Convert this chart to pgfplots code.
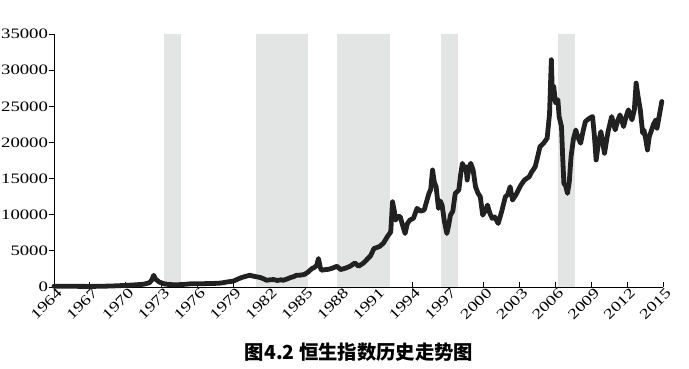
\documentclass[border=0pt]{standalone}
\usepackage{pgfplots}
\pgfplotsset{compat=1.18}
\usepackage{fontspec}
\setmainfont{Liberation Serif}
\newfontfamily\tickfont[FakeStretch=1.3]{Liberation Serif}
\newfontfamily\cjk{Noto Sans CJK SC}
\definecolor{shade}{RGB}{227,228,228}
\definecolor{linec}{RGB}{34,33,33}
\begin{document}
\begin{tikzpicture}
\useasboundingbox (-40.5pt,-60.75pt) rectangle (476.25pt,215.25pt);
\begin{axis}[
  at={(0,0)}, anchor=south west,
  scale only axis, width=456.75pt, height=189.75pt,
  xmin=1964, xmax=2015, ymin=0, ymax=35000,
  axis lines*=left,
  axis line style={line width=0.7pt},
  xtick={1964,1967,...,2015},
  ytick={0,5000,...,35000},
  scaled y ticks=false,
  scaled x ticks=false,
  tick align=inside,
  major tick length=4pt,
  tick style={black, line width=0.7pt},
  y tick style={xshift=-4pt},
  /pgf/number format/assume math mode=true,
  /pgf/number format/1000 sep={},
  tick label style={font=\tickfont\fontsize{10.8}{12}\selectfont},
  yticklabel style={xshift=-1pt},
  xticklabel style={anchor=north east, inner sep=1pt, xshift=1.5pt, yshift=1.5pt, rotate=45},
  clip=false,
]
\addplot[fill=shade, draw=none, forget plot] coordinates {(1973.25,0) (1973.25,35000) (1974.64,35000) (1974.64,0)};
\addplot[fill=shade, draw=none, forget plot] coordinates {(1980.93,0) (1980.93,35000) (1985.23,35000) (1985.23,0)};
\addplot[fill=shade, draw=none, forget plot] coordinates {(1987.72,0) (1987.72,35000) (1992.14,35000) (1992.14,0)};
\addplot[fill=shade, draw=none, forget plot] coordinates {(1996.41,0) (1996.41,35000) (1997.81,35000) (1997.81,0)};
\addplot[fill=shade, draw=none, forget plot] coordinates {(2006.19,0) (2006.19,35000) (2007.61,35000) (2007.61,0)};
\addplot[color=linec, line width=3.6pt, line join=round, line cap=round, no marks] coordinates {
(1964.0,100) (1965.0,100) (1966.0,90) (1967.0,80) (1968.0,100) (1969.0,150)
(1970.0,220) (1970.8,300) (1971.5,380) (1972.0,600) (1972.2,1000) (1972.35,1620)
(1972.5,1100) (1972.8,700) (1973.2,450) (1973.6,350) (1974.2,300) (1974.8,350)
(1975.5,450) (1976.2,450) (1976.8,470) (1977.5,500) (1978.0,550) (1978.5,700)
(1979.0,800) (1979.4,1100) (1979.7,1300) (1980.0,1450) (1980.4,1620) (1980.7,1500)
(1981.0,1400) (1981.3,1300) (1981.6,1100) (1981.8,930) (1982.1,1000) (1982.4,1030)
(1982.7,900) (1983.0,1000) (1983.2,930) (1983.5,1100) (1983.8,1300) (1984.1,1450)
(1984.3,1620) (1984.7,1650) (1985.0,1760) (1985.3,2100) (1985.6,2550) (1985.8,2700)
(1986.0,3000) (1986.15,3940) (1986.3,2700) (1986.4,2320) (1986.7,2400) (1987.0,2450)
(1987.3,2600) (1987.7,2870) (1988.0,2410) (1988.4,2600) (1988.8,2870) (1989.2,3330)
(1989.5,2870) (1989.9,3300) (1990.2,3800) (1990.5,4300) (1990.8,5330) (1991.1,5500)
(1991.3,5640) (1991.6,6100) (1991.9,6930) (1992.2,7630) (1992.35,11790) (1992.5,10500)
(1992.6,9250) (1992.8,9800) (1993.0,9710) (1993.2,8500) (1993.4,7400) (1993.6,8800)
(1993.8,9250) (1994.1,9500) (1994.4,10870) (1994.7,10500) (1995.0,10640) (1995.2,11800)
(1995.4,12950) (1995.55,13500) (1995.7,16190) (1995.85,14500) (1996.0,13870) (1996.2,10870)
(1996.35,11900) (1996.5,11330) (1996.7,9000) (1996.9,7400) (1997.05,8500) (1997.2,9940)
(1997.4,10500) (1997.6,12950) (1997.9,13410) (1998.05,15500) (1998.2,17110) (1998.35,16300)
(1998.5,16640) (1998.6,14800) (1998.75,16500) (1998.9,17110) (1999.1,16190) (1999.3,13870)
(1999.5,13000) (1999.7,12480) (1999.9,9940) (2000.1,10500) (2000.3,11330) (2000.5,10200)
(2000.7,9490) (2000.9,9700) (2001.2,8790) (2001.5,10500) (2001.8,12480) (2002.0,12800)
(2002.2,13870) (2002.4,12030) (2002.7,12800) (2003.1,14100) (2003.4,14800) (2003.8,15260)
(2004.0,15900) (2004.3,16640) (2004.5,18000) (2004.7,19420) (2005.0,19900) (2005.3,20580)
(2005.5,24000) (2005.65,31440) (2005.75,26000) (2005.85,27740) (2006.0,25500) (2006.2,25900)
(2006.3,23580) (2006.5,22190) (2006.6,18000) (2006.7,14340) (2006.85,14000) (2007.0,12950)
(2007.15,14500) (2007.3,18030) (2007.5,20500) (2007.7,21730) (2007.85,20800) (2008.1,19890)
(2008.3,21500) (2008.5,22890) (2008.8,23300) (2009.1,23580) (2009.25,21000) (2009.4,17570)
(2009.6,20000) (2009.8,21500) (2010.0,19500) (2010.1,18500) (2010.4,21500) (2010.7,23580)
(2011.0,21730) (2011.2,23000) (2011.4,23810) (2011.7,22190) (2011.9,23500) (2012.1,24510)
(2012.4,23120) (2012.6,24500) (2012.75,28210) (2012.9,26500) (2013.1,24510) (2013.3,21270)
(2013.4,21730) (2013.55,20500) (2013.7,18960) (2013.85,20800) (2014.0,21500) (2014.2,22500)
(2014.4,23120) (2014.5,21970) (2014.7,23800) (2014.9,25660)
};
\end{axis}
\node[font=\cjk\bfseries\fontsize{14.5}{16}\selectfont, inner sep=0pt] at (228.75pt,-48.75pt) {图4.2 恒生指数历史走势图};
\end{tikzpicture}
\end{document}
